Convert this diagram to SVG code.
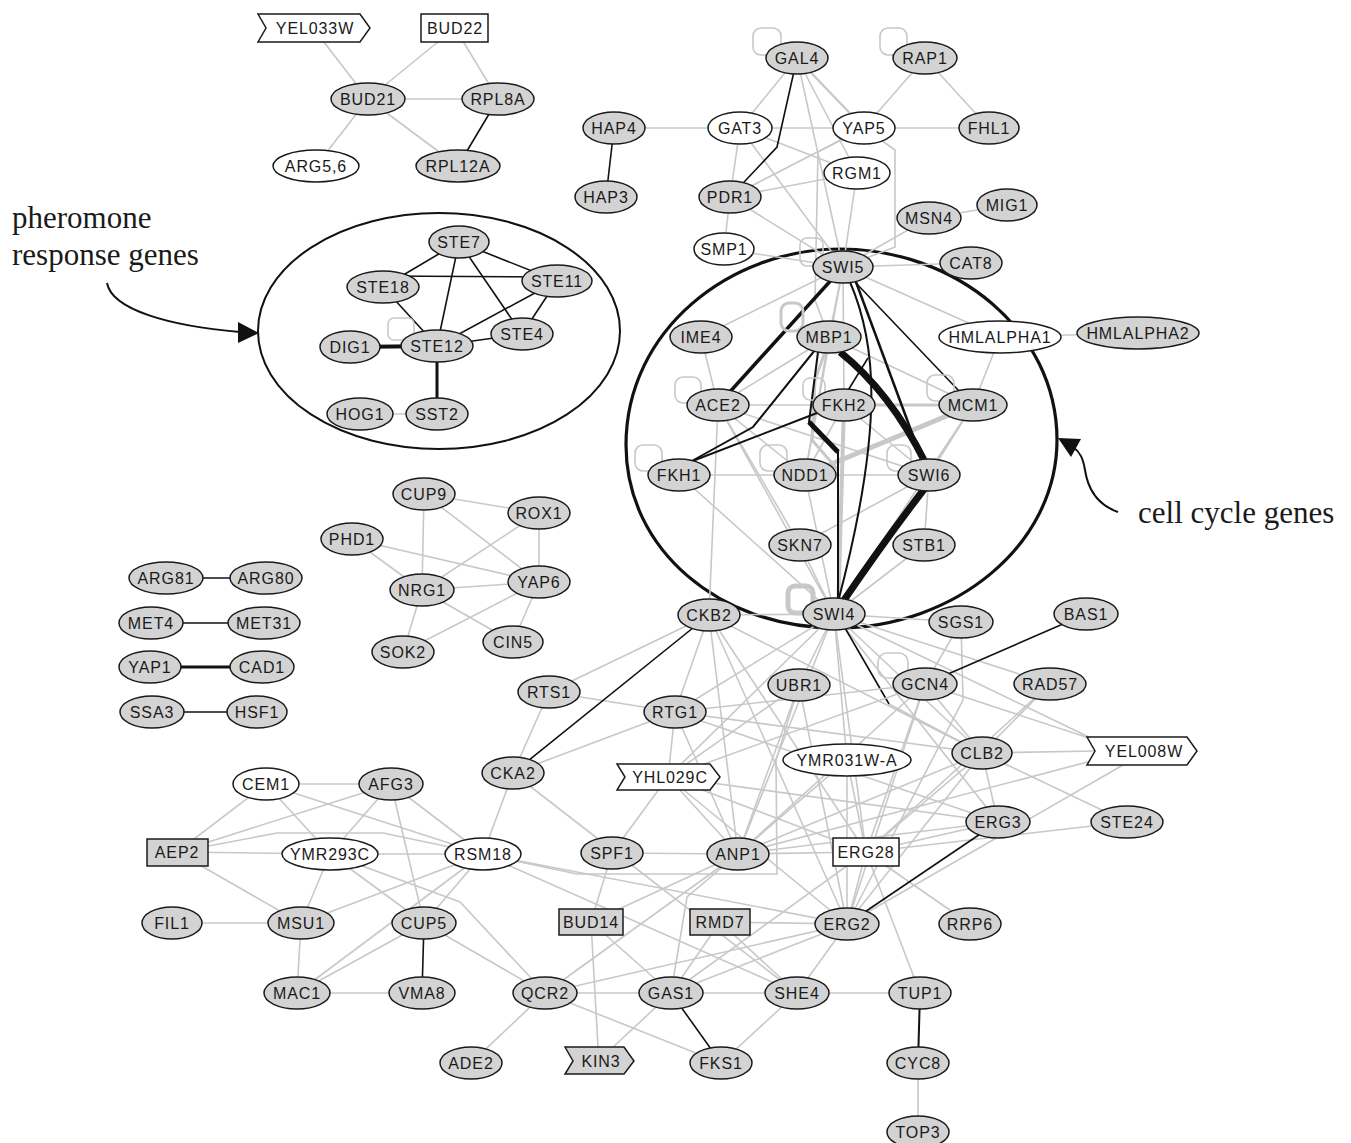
<svg xmlns="http://www.w3.org/2000/svg" width="1351" height="1143" viewBox="0 0 1351 1143">
<style>
.ge{stroke:#c8c8c8;stroke-width:1.6;fill:none}
.be{stroke:#111;stroke-width:1.6;fill:none}
.lp{stroke:#c8c8c8;stroke-width:1.6;fill:none}
.g{fill:#d3d3d3;stroke:#1a1a1a;stroke-width:1.5}
.w{fill:#fff;stroke:#1a1a1a;stroke-width:1.5}
text.t{font-family:"Liberation Sans",Arial,sans-serif;font-size:16px;letter-spacing:0.9px;text-anchor:middle;fill:#1a1a1a}
text.lab{font-family:"Liberation Serif","Times New Roman",serif;font-size:31px;fill:#1a1a1a}
</style>
<rect width="1351" height="1143" fill="#fff"/>

<g id="groups">
<ellipse cx="439" cy="331" rx="181" ry="118" fill="none" stroke="#111" stroke-width="2"/>
<path d="M626,445 C626,330 730,249 840,249 C955,249 1057,330 1057,440 C1057,545 955,628 836,628 C720,628 626,550 626,445 Z" fill="none" stroke="#111" stroke-width="3.2"/>
</g>

<g id="labels">
<text class="lab" x="12" y="228">pheromone</text>
<text class="lab" x="12" y="265">response genes</text>
<path d="M107,283 C112,310 170,326 240,332" fill="none" stroke="#111" stroke-width="2"/>
<polygon points="238,322 259,333 238,343" fill="#111"/>
<text class="lab" x="1138" y="523">cell cycle genes</text>
<path d="M1118,512 C1098,505 1088,490 1085,470 C1083,458 1080,452 1073,447" fill="none" stroke="#111" stroke-width="2"/>
<polygon points="1058,438 1081,439 1071,457" fill="#111"/>
</g>

<g id="edges">
<!-- top-left -->
<line class="ge" x1="313" y1="28" x2="368" y2="99"/>
<line class="ge" x1="455" y1="28" x2="368" y2="99"/>
<line class="ge" x1="455" y1="28" x2="498" y2="99"/>
<line class="ge" x1="368" y1="99" x2="498" y2="99"/>
<line class="ge" x1="368" y1="99" x2="316" y2="166"/>
<line class="ge" x1="368" y1="99" x2="458" y2="166"/>
<line class="be" x1="498" y1="99" x2="458" y2="166"/>
<!-- top center -->
<line class="ge" x1="797" y1="58" x2="740" y2="128"/>
<line class="ge" x1="797" y1="58" x2="864" y2="128" style="stroke-width:2.4"/>
<line class="ge" x1="797" y1="58" x2="857" y2="173"/>
<line class="ge" x1="797" y1="58" x2="843" y2="267"/>
<line class="ge" x1="925" y1="58" x2="864" y2="128"/>
<line class="ge" x1="925" y1="58" x2="989" y2="128"/>
<line class="ge" x1="614" y1="128" x2="740" y2="128"/>
<line class="ge" x1="740" y1="128" x2="864" y2="128"/>
<line class="ge" x1="864" y1="128" x2="989" y2="128"/>
<line class="ge" x1="740" y1="128" x2="730" y2="197"/>
<line class="ge" x1="740" y1="128" x2="857" y2="173"/>
<line class="ge" x1="740" y1="128" x2="843" y2="267"/>
<line class="ge" x1="864" y1="128" x2="730" y2="197"/>
<path class="ge" d="M864,128 L895,150 L895,247 L843,267"/>
<path class="ge" d="M864,128 L818,152 L815,300 L829,337"/>
<line class="ge" x1="857" y1="173" x2="730" y2="197"/>
<line class="ge" x1="857" y1="173" x2="843" y2="267"/>
<line class="ge" x1="730" y1="197" x2="724" y2="249"/>
<line class="ge" x1="730" y1="197" x2="843" y2="267"/>
<line class="ge" x1="724" y1="249" x2="843" y2="267"/>
<line class="ge" x1="929" y1="218" x2="1007" y2="205"/>
<line class="ge" x1="929" y1="218" x2="843" y2="267"/>
<line class="ge" x1="971" y1="263" x2="843" y2="267"/>
<line class="be" x1="614" y1="128" x2="606" y2="197"/>
<path class="be" d="M797,58 L777,147 L730,197"/>
<!-- pheromone -->
<line class="be" x1="459" y1="242" x2="383" y2="287"/>
<line class="be" x1="459" y1="242" x2="557" y2="281"/>
<line class="be" x1="459" y1="242" x2="437" y2="346"/>
<line class="be" x1="459" y1="242" x2="522" y2="334"/>
<line class="be" x1="383" y1="276" x2="557" y2="277"/>
<line class="be" x1="383" y1="287" x2="437" y2="346"/>
<line class="be" x1="557" y1="281" x2="437" y2="346"/>
<line class="be" x1="557" y1="281" x2="522" y2="334"/>
<line class="be" x1="437" y1="346" x2="522" y2="334"/>
<line class="be" x1="350" y1="347" x2="437" y2="346" style="stroke-width:4"/>
<line class="be" x1="437" y1="346" x2="437" y2="414" style="stroke-width:3"/>
<line class="ge" x1="360" y1="414" x2="437" y2="414"/>
<!-- middle left -->
<line class="ge" x1="424" y1="494" x2="539" y2="513"/>
<line class="ge" x1="424" y1="494" x2="422" y2="590"/>
<line class="ge" x1="424" y1="494" x2="539" y2="582"/>
<line class="ge" x1="352" y1="539" x2="422" y2="590"/>
<line class="ge" x1="352" y1="539" x2="539" y2="582"/>
<line class="ge" x1="539" y1="513" x2="422" y2="590"/>
<line class="ge" x1="539" y1="513" x2="539" y2="582"/>
<line class="ge" x1="422" y1="590" x2="539" y2="582"/>
<line class="ge" x1="422" y1="590" x2="403" y2="652"/>
<line class="ge" x1="422" y1="590" x2="513" y2="642"/>
<line class="ge" x1="539" y1="582" x2="403" y2="652"/>
<line class="ge" x1="539" y1="582" x2="513" y2="642"/>
<line class="be" x1="166" y1="578" x2="266" y2="578"/>
<line class="be" x1="151" y1="623" x2="264" y2="623"/>
<line class="be" x1="150" y1="667" x2="262" y2="667" style="stroke-width:3"/>
<line class="be" x1="152" y1="712" x2="257" y2="712"/>
<!-- cell cycle gray -->
<line class="ge" x1="843" y1="267" x2="701" y2="337"/>
<line class="ge" x1="843" y1="267" x2="829" y2="337"/>
<line class="ge" x1="843" y1="267" x2="844" y2="405"/>
<line class="ge" x1="843" y1="267" x2="1000" y2="337"/>
<line class="ge" x1="843" y1="267" x2="805" y2="475"/>
<line class="ge" x1="701" y1="337" x2="718" y2="405"/>
<line class="ge" x1="1000" y1="337" x2="973" y2="405"/>
<line class="ge" x1="1000" y1="337" x2="1138" y2="333"/>
<line class="ge" x1="718" y1="405" x2="973" y2="405"/>
<line class="ge" x1="718" y1="405" x2="829" y2="337"/>
<line class="ge" x1="718" y1="405" x2="805" y2="475"/>
<line class="ge" x1="718" y1="405" x2="929" y2="475"/>
<line class="ge" x1="718" y1="405" x2="834" y2="614"/>
<line class="ge" x1="718" y1="405" x2="800" y2="545"/>
<line class="ge" x1="718" y1="405" x2="709" y2="615"/>
<line class="ge" x1="679" y1="475" x2="805" y2="475"/>
<line class="ge" x1="679" y1="475" x2="834" y2="614"/>
<line class="ge" x1="805" y1="475" x2="929" y2="475"/>
<line class="ge" x1="805" y1="475" x2="834" y2="614"/>
<line class="ge" x1="800" y1="545" x2="929" y2="475"/>
<line class="ge" x1="800" y1="545" x2="834" y2="614"/>
<line class="ge" x1="924" y1="545" x2="834" y2="614"/>
<line class="ge" x1="929" y1="475" x2="924" y2="545"/>
<line class="ge" x1="973" y1="405" x2="929" y2="475"/>
<line class="ge" x1="973" y1="405" x2="834" y2="614"/>
<line class="ge" x1="829" y1="337" x2="973" y2="405"/>
<line class="ge" x1="829" y1="337" x2="805" y2="475"/>
<line class="ge" x1="844" y1="405" x2="929" y2="475"/>
<line class="ge" x1="844" y1="405" x2="805" y2="475"/>
<line class="ge" x1="844" y1="405" x2="838" y2="614" style="stroke-width:4"/>
<line class="ge" x1="973" y1="405" x2="805" y2="475" style="stroke-width:5"/>
<line class="ge" x1="844" y1="405" x2="973" y2="405" style="stroke-width:3"/>
<path class="ge" d="M825,352 L815,380 L812,440 L838,470" style="stroke-width:3"/>
<!-- cell cycle black -->
<line class="be" x1="843" y1="267" x2="718" y2="405" style="stroke-width:3.5"/>
<path class="be" d="M840,352 Q890,392 925,462" style="stroke-width:7"/>
<path class="be" d="M925,488 Q885,540 840,606" style="stroke-width:7"/>
<line class="be" x1="856" y1="282" x2="922" y2="460" style="stroke-width:2.5"/>
<path class="be" d="M850,282 C875,340 886,420 838,602" style="stroke-width:2"/>
<line class="be" x1="855" y1="282" x2="960" y2="392"/>
<path class="be" d="M815,350 L753,427 L690,462" style="stroke-width:2"/>
<line class="be" x1="817" y1="413" x2="690" y2="462" style="stroke-width:2"/>
<path class="be" d="M818,352 L809,422 L838,452 L838,600" style="stroke-width:2"/>
<line class="be" x1="809" y1="422" x2="838" y2="452" style="stroke-width:5"/>
<line class="be" x1="868" y1="358" x2="847" y2="392"/>
<!-- lower hairball -->
<line class="ge" x1="834" y1="614" x2="709" y2="615"/>
<line class="ge" x1="834" y1="614" x2="961" y2="622"/>
<line class="ge" x1="834" y1="614" x2="799" y2="685"/>
<line class="ge" x1="834" y1="614" x2="847" y2="760"/>
<line class="ge" x1="834" y1="614" x2="738" y2="854"/>
<line class="ge" x1="834" y1="614" x2="982" y2="753"/>
<line class="ge" x1="834" y1="614" x2="1095" y2="740"/>
<line class="ge" x1="834" y1="614" x2="1050" y2="684"/>
<line class="ge" x1="834" y1="614" x2="866" y2="852"/>
<line class="ge" x1="834" y1="614" x2="675" y2="712"/>
<line class="ge" x1="834" y1="614" x2="668" y2="777"/>
<line class="ge" x1="834" y1="614" x2="998" y2="822"/>
<line class="ge" x1="889" y1="704" x2="982" y2="753"/>
<line class="be" x1="845" y1="628" x2="889" y2="704"/>
<line class="ge" x1="709" y1="615" x2="549" y2="692"/>
<line class="ge" x1="709" y1="615" x2="675" y2="712"/>
<line class="ge" x1="709" y1="615" x2="738" y2="854"/>
<line class="ge" x1="709" y1="615" x2="847" y2="924"/>
<line class="ge" x1="709" y1="615" x2="982" y2="753"/>
<line class="ge" x1="709" y1="615" x2="866" y2="852"/>
<line class="ge" x1="549" y1="692" x2="675" y2="712"/>
<line class="ge" x1="549" y1="692" x2="513" y2="773"/>
<line class="ge" x1="675" y1="712" x2="513" y2="773"/>
<line class="ge" x1="675" y1="712" x2="668" y2="777"/>
<line class="ge" x1="675" y1="712" x2="738" y2="854"/>
<line class="ge" x1="675" y1="712" x2="982" y2="753"/>
<line class="ge" x1="675" y1="712" x2="925" y2="684"/>
<line class="ge" x1="675" y1="712" x2="998" y2="822"/>
<line class="ge" x1="799" y1="685" x2="738" y2="854"/>
<line class="ge" x1="799" y1="685" x2="847" y2="924"/>
<line class="ge" x1="799" y1="685" x2="668" y2="777"/>
<line class="ge" x1="925" y1="684" x2="982" y2="753"/>
<line class="ge" x1="925" y1="684" x2="1095" y2="740"/>
<line class="ge" x1="925" y1="684" x2="866" y2="852"/>
<line class="ge" x1="925" y1="684" x2="847" y2="924"/>
<line class="ge" x1="925" y1="684" x2="738" y2="854"/>
<line class="ge" x1="925" y1="684" x2="668" y2="777"/>
<line class="ge" x1="925" y1="684" x2="961" y2="622"/>
<path class="ge" d="M961,622 L963,700 L847,924"/>
<line class="ge" x1="1050" y1="684" x2="982" y2="753"/>
<line class="ge" x1="1050" y1="684" x2="866" y2="852"/>
<line class="ge" x1="982" y1="753" x2="1095" y2="751"/>
<line class="ge" x1="982" y1="753" x2="998" y2="822"/>
<line class="ge" x1="982" y1="753" x2="1127" y2="822"/>
<line class="ge" x1="982" y1="753" x2="866" y2="852"/>
<line class="ge" x1="982" y1="753" x2="738" y2="854"/>
<line class="ge" x1="982" y1="753" x2="847" y2="924"/>
<line class="ge" x1="1123" y1="765" x2="847" y2="924"/>
<line class="ge" x1="1095" y1="760" x2="738" y2="854"/>
<line class="ge" x1="847" y1="760" x2="866" y2="852"/>
<line class="ge" x1="847" y1="760" x2="847" y2="924"/>
<line class="ge" x1="847" y1="760" x2="738" y2="854"/>
<line class="ge" x1="998" y1="822" x2="866" y2="852"/>
<line class="ge" x1="998" y1="822" x2="668" y2="777"/>
<line class="ge" x1="998" y1="822" x2="738" y2="854"/>
<line class="ge" x1="1127" y1="822" x2="866" y2="852"/>
<line class="ge" x1="668" y1="777" x2="738" y2="854"/>
<line class="ge" x1="668" y1="777" x2="847" y2="924"/>
<line class="ge" x1="668" y1="777" x2="612" y2="853"/>
<line class="ge" x1="668" y1="777" x2="866" y2="852"/>
<line class="ge" x1="866" y1="852" x2="847" y2="924"/>
<line class="ge" x1="866" y1="852" x2="920" y2="993"/>
<line class="ge" x1="866" y1="852" x2="970" y2="924"/>
<line class="ge" x1="866" y1="852" x2="738" y2="854"/>
<line class="ge" x1="866" y1="852" x2="671" y2="993"/>
<line class="ge" x1="513" y1="773" x2="483" y2="854"/>
<line class="ge" x1="513" y1="773" x2="797" y2="993"/>
<line class="be" x1="709" y1="615" x2="513" y2="773"/>
<line class="be" x1="1086" y1="614" x2="925" y2="684"/>
<line class="be" x1="998" y1="822" x2="847" y2="924"/>
<!-- bottom center -->
<line class="ge" x1="612" y1="853" x2="738" y2="854"/>
<line class="ge" x1="612" y1="853" x2="591" y2="922"/>
<line class="ge" x1="483" y1="854" x2="847" y2="924"/>
<line class="ge" x1="483" y1="854" x2="797" y2="993"/>
<path class="ge" d="M483,854 L577,874 L777,874 L776,760 L799,685"/>
<line class="ge" x1="591" y1="922" x2="598" y2="1047"/>
<line class="ge" x1="591" y1="922" x2="671" y2="993"/>
<line class="ge" x1="591" y1="922" x2="738" y2="854"/>
<line class="ge" x1="720" y1="922" x2="847" y2="924"/>
<line class="ge" x1="720" y1="922" x2="671" y2="993"/>
<line class="ge" x1="720" y1="922" x2="797" y2="993"/>
<line class="ge" x1="847" y1="924" x2="797" y2="993"/>
<line class="ge" x1="847" y1="924" x2="671" y2="993"/>
<line class="ge" x1="847" y1="924" x2="545" y2="993"/>
<line class="ge" x1="545" y1="993" x2="671" y2="993"/>
<line class="ge" x1="671" y1="993" x2="797" y2="993"/>
<line class="ge" x1="797" y1="993" x2="920" y2="993"/>
<line class="ge" x1="610" y1="1050" x2="671" y2="993"/>
<line class="ge" x1="545" y1="993" x2="721" y2="1063"/>
<line class="ge" x1="797" y1="993" x2="721" y2="1063"/>
<path class="ge" d="M738,854 L687,897 L671,993"/>
<line class="ge" x1="738" y1="854" x2="545" y2="993"/>
<line class="ge" x1="918" y1="1063" x2="918" y2="1132"/>
<line class="be" x1="671" y1="993" x2="721" y2="1063"/>
<line class="be" x1="920" y1="993" x2="918" y2="1063" style="stroke-width:2"/>
<!-- bottom left -->
<line class="ge" x1="266" y1="784" x2="391" y2="784"/>
<line class="ge" x1="266" y1="784" x2="177" y2="852"/>
<line class="ge" x1="266" y1="784" x2="330" y2="854"/>
<line class="ge" x1="266" y1="784" x2="483" y2="854"/>
<line class="ge" x1="391" y1="784" x2="177" y2="852"/>
<line class="ge" x1="391" y1="784" x2="330" y2="854"/>
<line class="ge" x1="391" y1="784" x2="424" y2="923"/>
<line class="ge" x1="391" y1="784" x2="483" y2="854"/>
<line class="ge" x1="177" y1="852" x2="330" y2="854"/>
<path class="ge" d="M177,852 L277,833 L383,833 L483,854"/>
<line class="ge" x1="177" y1="852" x2="301" y2="923"/>
<line class="ge" x1="330" y1="854" x2="483" y2="854"/>
<line class="ge" x1="330" y1="854" x2="301" y2="923"/>
<line class="ge" x1="330" y1="854" x2="424" y2="923"/>
<path class="ge" d="M330,854 L460,902 L545,993"/>
<line class="ge" x1="483" y1="854" x2="301" y2="923"/>
<line class="ge" x1="483" y1="854" x2="424" y2="923"/>
<line class="ge" x1="483" y1="854" x2="297" y2="993"/>
<line class="ge" x1="172" y1="923" x2="301" y2="923"/>
<line class="ge" x1="301" y1="923" x2="297" y2="993"/>
<line class="ge" x1="424" y1="923" x2="297" y2="993"/>
<line class="ge" x1="424" y1="923" x2="545" y2="993"/>
<line class="ge" x1="297" y1="993" x2="422" y2="993"/>
<line class="ge" x1="545" y1="993" x2="471" y2="1063"/>
<line class="be" x1="424" y1="923" x2="422" y2="993"/>
</g>

<g id="loops">
<rect class="lp" x="753" y="28" width="28" height="27" rx="8"/>
<rect class="lp" x="880" y="28" width="27" height="27" rx="8"/>
<rect class="lp" x="388" y="318" width="26" height="22" rx="6"/>
<rect class="lp" x="800" y="238" width="23" height="28" rx="7"/>
<rect class="lp" x="781" y="303" width="22" height="28" rx="8" style="stroke-width:3"/>
<rect class="lp" x="675" y="377" width="26" height="26" rx="8"/>
<rect class="lp" x="803" y="378" width="22" height="22" rx="7"/>
<rect class="lp" x="927" y="375" width="27" height="26" rx="8"/>
<rect class="lp" x="635" y="445" width="27" height="26" rx="8"/>
<rect class="lp" x="760" y="445" width="27" height="26" rx="8"/>
<rect class="lp" x="887" y="445" width="24" height="26" rx="8"/>
<rect class="lp" x="788" y="586" width="25" height="27" rx="7" style="stroke-width:5"/>
<rect class="lp" x="878" y="653" width="30" height="25" rx="9"/>
</g>

<g id="nodes">
<g id="n-YEL033W"><polygon class="w" points="258,14 360,14 370,28 360,42 258,42 266,28"/><text class="t" x="315" y="34">YEL033W</text></g>
<g id="n-BUD22"><rect class="w" x="421" y="14" width="67" height="28"/><text class="t" x="455" y="34">BUD22</text></g>
<g id="n-BUD21"><ellipse class="g" cx="368" cy="99" rx="37" ry="16"/><text class="t" x="368" y="105">BUD21</text></g>
<g id="n-RPL8A"><ellipse class="g" cx="498" cy="99" rx="36" ry="16"/><text class="t" x="498" y="105">RPL8A</text></g>
<g id="n-ARG56"><ellipse class="w" cx="316" cy="166" rx="43" ry="16"/><text class="t" x="316" y="172">ARG5,6</text></g>
<g id="n-RPL12A"><ellipse class="g" cx="458" cy="166" rx="42" ry="16"/><text class="t" x="458" y="172">RPL12A</text></g>

<g id="n-GAL4"><ellipse class="g" cx="797" cy="58" rx="31" ry="16"/><text class="t" x="797" y="64">GAL4</text></g>
<g id="n-RAP1"><ellipse class="g" cx="925" cy="58" rx="32" ry="16"/><text class="t" x="925" y="64">RAP1</text></g>
<g id="n-HAP4"><ellipse class="g" cx="614" cy="128" rx="31" ry="16"/><text class="t" x="614" y="134">HAP4</text></g>
<g id="n-GAT3"><ellipse class="w" cx="740" cy="128" rx="32" ry="16"/><text class="t" x="740" y="134">GAT3</text></g>
<g id="n-YAP5"><ellipse class="w" cx="864" cy="128" rx="31" ry="16"/><text class="t" x="864" y="134">YAP5</text></g>
<g id="n-FHL1"><ellipse class="g" cx="989" cy="128" rx="30" ry="16"/><text class="t" x="989" y="134">FHL1</text></g>
<g id="n-RGM1"><ellipse class="w" cx="857" cy="173" rx="33" ry="16"/><text class="t" x="857" y="179">RGM1</text></g>
<g id="n-HAP3"><ellipse class="g" cx="606" cy="197" rx="31" ry="16"/><text class="t" x="606" y="203">HAP3</text></g>
<g id="n-PDR1"><ellipse class="g" cx="730" cy="197" rx="31" ry="16"/><text class="t" x="730" y="203">PDR1</text></g>
<g id="n-MSN4"><ellipse class="g" cx="929" cy="218" rx="32" ry="16"/><text class="t" x="929" y="224">MSN4</text></g>
<g id="n-MIG1"><ellipse class="g" cx="1007" cy="205" rx="30" ry="16"/><text class="t" x="1007" y="211">MIG1</text></g>
<g id="n-SMP1"><ellipse class="w" cx="724" cy="249" rx="30" ry="16"/><text class="t" x="724" y="255">SMP1</text></g>
<g id="n-SWI5"><ellipse class="g" cx="843" cy="267" rx="30" ry="16"/><text class="t" x="843" y="273">SWI5</text></g>
<g id="n-CAT8"><ellipse class="g" cx="971" cy="263" rx="31" ry="16"/><text class="t" x="971" y="269">CAT8</text></g>

<g id="n-STE7"><ellipse class="g" cx="459" cy="242" rx="30" ry="16"/><text class="t" x="459" y="248">STE7</text></g>
<g id="n-STE18"><ellipse class="g" cx="383" cy="287" rx="36" ry="16"/><text class="t" x="383" y="293">STE18</text></g>
<g id="n-STE11"><ellipse class="g" cx="557" cy="281" rx="35" ry="16"/><text class="t" x="557" y="287">STE11</text></g>
<g id="n-STE4"><ellipse class="g" cx="522" cy="334" rx="31" ry="16"/><text class="t" x="522" y="340">STE4</text></g>
<g id="n-STE12"><ellipse class="g" cx="437" cy="346" rx="36" ry="16"/><text class="t" x="437" y="352">STE12</text></g>
<g id="n-DIG1"><ellipse class="g" cx="350" cy="347" rx="30" ry="16"/><text class="t" x="350" y="353">DIG1</text></g>
<g id="n-SST2"><ellipse class="g" cx="437" cy="414" rx="31" ry="16"/><text class="t" x="437" y="420">SST2</text></g>
<g id="n-HOG1"><ellipse class="g" cx="360" cy="414" rx="33" ry="16"/><text class="t" x="360" y="420">HOG1</text></g>

<g id="n-IME4"><ellipse class="g" cx="701" cy="337" rx="31" ry="16"/><text class="t" x="701" y="343">IME4</text></g>
<g id="n-MBP1"><ellipse class="g" cx="829" cy="337" rx="32" ry="16"/><text class="t" x="829" y="343">MBP1</text></g>
<g id="n-HMLALPHA1"><ellipse class="w" cx="1000" cy="337" rx="61" ry="16"/><text class="t" x="1000" y="343">HMLALPHA1</text></g>
<g id="n-HMLALPHA2"><ellipse class="g" cx="1138" cy="333" rx="61" ry="16"/><text class="t" x="1138" y="339">HMLALPHA2</text></g>
<g id="n-ACE2"><ellipse class="g" cx="718" cy="405" rx="31" ry="16"/><text class="t" x="718" y="411">ACE2</text></g>
<g id="n-FKH2"><ellipse class="g" cx="844" cy="405" rx="31" ry="16"/><text class="t" x="844" y="411">FKH2</text></g>
<g id="n-MCM1"><ellipse class="g" cx="973" cy="405" rx="34" ry="16"/><text class="t" x="973" y="411">MCM1</text></g>
<g id="n-FKH1"><ellipse class="g" cx="679" cy="475" rx="31" ry="16"/><text class="t" x="679" y="481">FKH1</text></g>
<g id="n-NDD1"><ellipse class="g" cx="805" cy="475" rx="31" ry="16"/><text class="t" x="805" y="481">NDD1</text></g>
<g id="n-SWI6"><ellipse class="g" cx="929" cy="475" rx="31" ry="16"/><text class="t" x="929" y="481">SWI6</text></g>
<g id="n-SKN7"><ellipse class="g" cx="800" cy="545" rx="31" ry="16"/><text class="t" x="800" y="551">SKN7</text></g>
<g id="n-STB1"><ellipse class="g" cx="924" cy="545" rx="31" ry="16"/><text class="t" x="924" y="551">STB1</text></g>
<g id="n-CKB2"><ellipse class="g" cx="709" cy="615" rx="31" ry="16"/><text class="t" x="709" y="621">CKB2</text></g>
<g id="n-SWI4"><ellipse class="g" cx="834" cy="614" rx="31" ry="16"/><text class="t" x="834" y="620">SWI4</text></g>
<g id="n-SGS1"><ellipse class="g" cx="961" cy="622" rx="32" ry="16"/><text class="t" x="961" y="628">SGS1</text></g>
<g id="n-BAS1"><ellipse class="g" cx="1086" cy="614" rx="32" ry="16"/><text class="t" x="1086" y="620">BAS1</text></g>

<g id="n-CUP9"><ellipse class="g" cx="424" cy="494" rx="31" ry="16"/><text class="t" x="424" y="500">CUP9</text></g>
<g id="n-ROX1"><ellipse class="g" cx="539" cy="513" rx="31" ry="16"/><text class="t" x="539" y="519">ROX1</text></g>
<g id="n-PHD1"><ellipse class="g" cx="352" cy="539" rx="31" ry="16"/><text class="t" x="352" y="545">PHD1</text></g>
<g id="n-NRG1"><ellipse class="g" cx="422" cy="590" rx="32" ry="16"/><text class="t" x="422" y="596">NRG1</text></g>
<g id="n-YAP6"><ellipse class="g" cx="539" cy="582" rx="31" ry="16"/><text class="t" x="539" y="588">YAP6</text></g>
<g id="n-SOK2"><ellipse class="g" cx="403" cy="652" rx="31" ry="16"/><text class="t" x="403" y="658">SOK2</text></g>
<g id="n-CIN5"><ellipse class="g" cx="513" cy="642" rx="30" ry="16"/><text class="t" x="513" y="648">CIN5</text></g>
<g id="n-ARG81"><ellipse class="g" cx="166" cy="578" rx="37" ry="16"/><text class="t" x="166" y="584">ARG81</text></g>
<g id="n-ARG80"><ellipse class="g" cx="266" cy="578" rx="36" ry="16"/><text class="t" x="266" y="584">ARG80</text></g>
<g id="n-MET4"><ellipse class="g" cx="151" cy="623" rx="32" ry="16"/><text class="t" x="151" y="629">MET4</text></g>
<g id="n-MET31"><ellipse class="g" cx="264" cy="623" rx="36" ry="16"/><text class="t" x="264" y="629">MET31</text></g>
<g id="n-YAP1"><ellipse class="g" cx="150" cy="667" rx="31" ry="16"/><text class="t" x="150" y="673">YAP1</text></g>
<g id="n-CAD1"><ellipse class="g" cx="262" cy="667" rx="32" ry="16"/><text class="t" x="262" y="673">CAD1</text></g>
<g id="n-SSA3"><ellipse class="g" cx="152" cy="712" rx="32" ry="16"/><text class="t" x="152" y="718">SSA3</text></g>
<g id="n-HSF1"><ellipse class="g" cx="257" cy="712" rx="30" ry="16"/><text class="t" x="257" y="718">HSF1</text></g>

<g id="n-RTS1"><ellipse class="g" cx="549" cy="692" rx="31" ry="16"/><text class="t" x="549" y="698">RTS1</text></g>
<g id="n-RTG1"><ellipse class="g" cx="675" cy="712" rx="31" ry="16"/><text class="t" x="675" y="718">RTG1</text></g>
<g id="n-UBR1"><ellipse class="g" cx="799" cy="685" rx="31" ry="16"/><text class="t" x="799" y="691">UBR1</text></g>
<g id="n-GCN4"><ellipse class="g" cx="925" cy="684" rx="32" ry="16"/><text class="t" x="925" y="690">GCN4</text></g>
<g id="n-RAD57"><ellipse class="g" cx="1050" cy="684" rx="36" ry="16"/><text class="t" x="1050" y="690">RAD57</text></g>
<g id="n-CKA2"><ellipse class="g" cx="513" cy="773" rx="31" ry="16"/><text class="t" x="513" y="779">CKA2</text></g>
<g id="n-YHL029C"><polygon class="w" points="617,764 710,764 720,777 710,790 617,790 625,777"/><text class="t" x="670" y="783">YHL029C</text></g>
<g id="n-YMR031W-A"><ellipse class="w" cx="847" cy="760" rx="64" ry="16"/><text class="t" x="847" y="766">YMR031W-A</text></g>
<g id="n-CLB2"><ellipse class="g" cx="982" cy="753" rx="30" ry="16"/><text class="t" x="982" y="759">CLB2</text></g>
<g id="n-YEL008W"><polygon class="w" points="1087,737 1187,737 1197,751 1187,765 1087,765 1095,751"/><text class="t" x="1144" y="757">YEL008W</text></g>
<g id="n-ERG3"><ellipse class="g" cx="998" cy="822" rx="32" ry="16"/><text class="t" x="998" y="828">ERG3</text></g>
<g id="n-STE24"><ellipse class="g" cx="1127" cy="822" rx="36" ry="16"/><text class="t" x="1127" y="828">STE24</text></g>
<g id="n-ERG28"><rect class="w" x="833" y="838" width="66" height="28"/><text class="t" x="866" y="858">ERG28</text></g>

<g id="n-CEM1"><ellipse class="w" cx="266" cy="784" rx="33" ry="16"/><text class="t" x="266" y="790">CEM1</text></g>
<g id="n-AFG3"><ellipse class="g" cx="391" cy="784" rx="32" ry="16"/><text class="t" x="391" y="790">AFG3</text></g>
<g id="n-AEP2"><rect class="g" x="147" y="839" width="61" height="27"/><text class="t" x="177" y="858">AEP2</text></g>
<g id="n-YMR293C"><ellipse class="w" cx="330" cy="854" rx="48" ry="16"/><text class="t" x="330" y="860">YMR293C</text></g>
<g id="n-RSM18"><ellipse class="w" cx="483" cy="854" rx="38" ry="16"/><text class="t" x="483" y="860">RSM18</text></g>
<g id="n-FIL1"><ellipse class="g" cx="172" cy="923" rx="30" ry="16"/><text class="t" x="172" y="929">FIL1</text></g>
<g id="n-MSU1"><ellipse class="g" cx="301" cy="923" rx="33" ry="16"/><text class="t" x="301" y="929">MSU1</text></g>
<g id="n-CUP5"><ellipse class="g" cx="424" cy="923" rx="32" ry="16"/><text class="t" x="424" y="929">CUP5</text></g>
<g id="n-MAC1"><ellipse class="g" cx="297" cy="993" rx="33" ry="16"/><text class="t" x="297" y="999">MAC1</text></g>
<g id="n-VMA8"><ellipse class="g" cx="422" cy="993" rx="33" ry="16"/><text class="t" x="422" y="999">VMA8</text></g>
<g id="n-QCR2"><ellipse class="g" cx="545" cy="993" rx="32" ry="16"/><text class="t" x="545" y="999">QCR2</text></g>
<g id="n-ADE2"><ellipse class="g" cx="471" cy="1063" rx="31" ry="16"/><text class="t" x="471" y="1069">ADE2</text></g>

<g id="n-SPF1"><ellipse class="g" cx="612" cy="853" rx="31" ry="16"/><text class="t" x="612" y="859">SPF1</text></g>
<g id="n-ANP1"><ellipse class="g" cx="738" cy="854" rx="31" ry="16"/><text class="t" x="738" y="860">ANP1</text></g>
<g id="n-BUD14"><rect class="g" x="559" y="909" width="64" height="26"/><text class="t" x="591" y="928">BUD14</text></g>
<g id="n-RMD7"><rect class="g" x="690" y="909" width="60" height="26"/><text class="t" x="720" y="928">RMD7</text></g>
<g id="n-ERG2"><ellipse class="g" cx="847" cy="924" rx="32" ry="16"/><text class="t" x="847" y="930">ERG2</text></g>
<g id="n-RRP6"><ellipse class="g" cx="970" cy="924" rx="31" ry="16"/><text class="t" x="970" y="930">RRP6</text></g>
<g id="n-GAS1"><ellipse class="g" cx="671" cy="993" rx="32" ry="16"/><text class="t" x="671" y="999">GAS1</text></g>
<g id="n-SHE4"><ellipse class="g" cx="797" cy="993" rx="32" ry="16"/><text class="t" x="797" y="999">SHE4</text></g>
<g id="n-TUP1"><ellipse class="g" cx="920" cy="993" rx="31" ry="16"/><text class="t" x="920" y="999">TUP1</text></g>
<g id="n-KIN3"><polygon class="g" points="565,1047 624,1047 634,1061 624,1074 565,1074 573,1061"/><text class="t" x="601" y="1067">KIN3</text></g>
<g id="n-FKS1"><ellipse class="g" cx="721" cy="1063" rx="31" ry="16"/><text class="t" x="721" y="1069">FKS1</text></g>
<g id="n-CYC8"><ellipse class="g" cx="918" cy="1063" rx="31" ry="16"/><text class="t" x="918" y="1069">CYC8</text></g>
<g id="n-TOP3"><ellipse class="g" cx="918" cy="1132" rx="31" ry="16"/><text class="t" x="918" y="1138">TOP3</text></g>
</g>
</svg>
